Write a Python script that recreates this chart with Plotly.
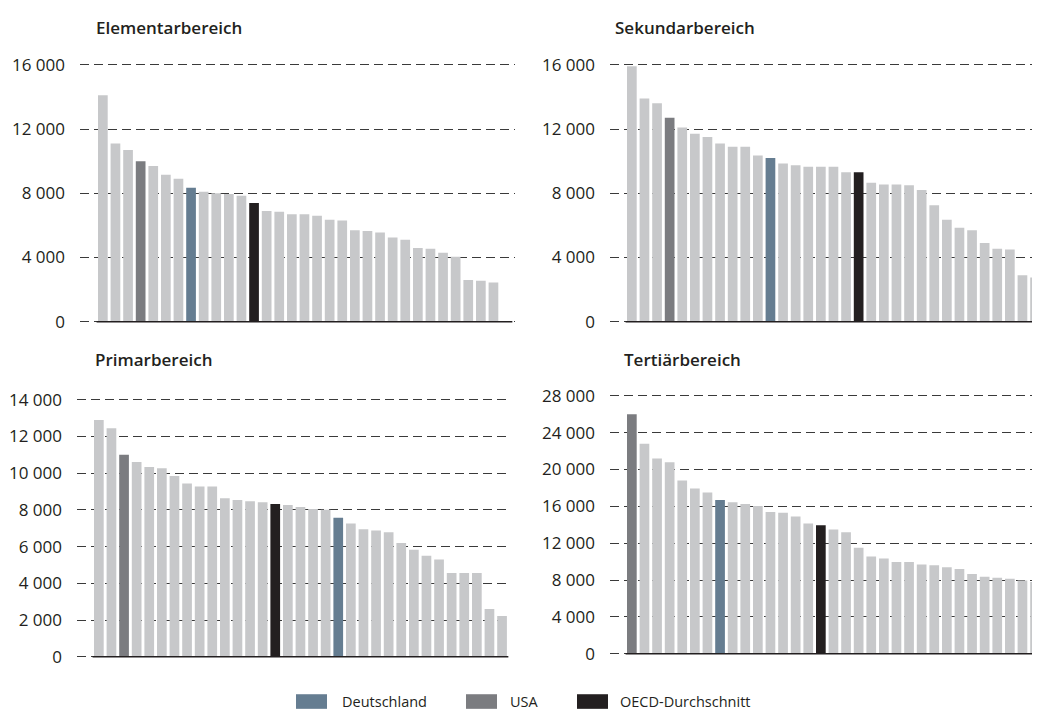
import plotly.graph_objects as go

# ---- data ----
elementar = [14100, 11100, 10700, 10000, 9700, 9150, 8900, 8350, 8100, 8000, 7950, 7850,
             7400, 6900, 6850, 6700, 6700, 6600, 6350, 6300, 5700, 5650, 5550, 5250, 5100,
             4600, 4550, 4300, 4050, 2600, 2550, 2450, None]
elementar_role = ["", "", "", "USA", "", "", "", "DE", "", "", "", "", "OECD"] + [""] * 20

sekundar = [15900, 13900, 13600, 12700, 12100, 11700, 11500, 11100, 10900, 10900, 10350,
            10200, 9850, 9750, 9650, 9650, 9650, 9300, 9300, 8650, 8550, 8550, 8500, 8200,
            7250, 6350, 5850, 5700, 4900, 4550, 4500, 2900, 2750]
sekundar_role = ["", "", "", "USA", "", "", "", "", "", "", "", "DE", "", "", "", "", "", "",
                 "OECD"] + [""] * 14

primar = [12900, 12450, 11000, 10600, 10330, 10270, 9850, 9430, 9270, 9270, 8630, 8530, 8470,
          8420, 8320, 8260, 8150, 8050, 8010, 7570, 7250, 6940, 6880, 6780, 6200, 5830, 5500,
          5300, 4560, 4560, 4560, 2600, 2220]
primar_role = ["", "", "USA"] + [""] * 11 + ["OECD"] + [""] * 4 + ["DE"] + [""] * 13

tertiar = [26000, 22800, 21200, 20800, 18800, 17950, 17500, 16700, 16450, 16250, 16050,
           15400, 15300, 14900, 14150, 13950, 13500, 13200, 11500, 10550, 10350, 9950, 9950,
           9700, 9600, 9400, 9200, 8650, 8350, 8250, 8150, 7950, 7800]
tertiar_role = ["USA"] + [""] * 6 + ["DE"] + [""] * 7 + ["OECD"] + [""] * 17

titles = ["Elementarbereich", "Sekundarbereich", "Primarbereich", "Tertiärbereich"]
y_max = [16000, 16000, 14000, 28000]
y_step = [4000, 4000, 2000, 4000]
legend_labels = ["Deutschland", "USA", "OECD-Durchschnitt"]
legend_roles = ["DE", "USA", "OECD"]

# ---- styling ----
COLORS = {"": "#C7C8CA", "USA": "#7B7C80", "DE": "#657D91", "OECD": "#231F20"}
TEXT = "#231F20"
FONT = "Open Sans"
W, H = 1040, 722
OFF = 8  # page body margin in the browser

# pixel layout of each panel (screen px): (x0, x1, y_top, y_bottom, first bar left px)
panels_px = [
    (80, 515, 56, 320, 98),
    (610, 1048, 56, 320, 627),
    (77, 510, 400, 664, 94),
    (610, 1048, 396, 661, 627),
]
title_px = [(94, 18), (613, 18), (93, 359), (622, 359)]
PITCH = 12.6
BARW = 9.7
EPS = 0.006  # small range padding so edge gridlines are drawn

datasets = [(elementar, elementar_role), (sekundar, sekundar_role),
            (primar, primar_role), (tertiar, tertiar_role)]

fig = go.Figure()
layout = dict(
    width=W, height=H, margin=dict(l=0, r=0, t=0, b=0),
    paper_bgcolor="white", plot_bgcolor="white",
    separators=", ", showlegend=False, bargap=1 - BARW / PITCH,
    font=dict(family=FONT, size=15, color=TEXT),
)
shapes = []
annotations = []

for i, ((vals, roles), (x0, x1, yt, yb, first)) in enumerate(zip(datasets, panels_px)):
    x0, x1, yt, yb, first = x0 - OFF, x1 - OFF, yt - OFF, yb - OFF, first - OFF
    n = len(vals)
    xs = list(range(n))
    ax = "" if i == 0 else str(i + 1)
    fig.add_trace(go.Bar(
        x=xs, y=vals, marker=dict(color=[COLORS[r] for r in roles], line=dict(width=0)),
        xaxis="x" + ax, yaxis="y" + ax, hoverinfo="y",
    ))
    a = -((first + BARW / 2) - x0) / PITCH
    b = a + (x1 - x0) / PITCH
    layout["xaxis" + ax] = dict(
        domain=[x0 / W, min(1.0, x1 / W)], range=[a, b], anchor="y" + ax,
        showgrid=False, showticklabels=False, zeroline=False, showline=False, ticks="",
    )
    ymx = y_max[i]
    lo, hi = -EPS * ymx, ymx * (1 + EPS)
    ppv = (yb - yt) / ymx  # px per value
    top_px = yt - EPS * ymx * ppv
    bot_px = yb + EPS * ymx * ppv
    layout["yaxis" + ax] = dict(
        domain=[1 - bot_px / H, 1 - top_px / H], range=[lo, hi], anchor="x" + ax,
        tickmode="linear", tick0=0, dtick=y_step[i], tickformat=",d",
        showgrid=True, gridcolor="#3A3A3A", gridwidth=1, griddash="9px,5px",
        zeroline=False, showline=False, ticks="", ticklabelstandoff=14,
        tickfont=dict(family=FONT, size=17, color=TEXT),
    )
    # baseline under the bars
    shapes.append(dict(type="line", xref="x" + ax, yref="y" + ax,
                       x0=-0.5, x1=n - 0.5, y0=0, y1=0,
                       line=dict(color="#231F20", width=1.6), layer="above"))
    tx, ty = title_px[i]
    annotations.append(dict(text=titles[i], xref="paper", yref="paper",
                            x=(tx - OFF) / W, y=1 - (ty - OFF) / H, xanchor="left", yanchor="middle",
                            showarrow=False,
                            font=dict(family=FONT, size=17, color=TEXT, weight=600)))

# legend (swatches + labels)
legend_px = [(296, 340), (466, 508), (577, 618)]
LEG_Y = 710 - OFF
for lab, role, (sx, tx) in zip(legend_labels, legend_roles, legend_px):
    sx, tx = sx - OFF, tx - OFF
    shapes.append(dict(type="rect", xref="paper", yref="paper",
                       x0=sx / W, x1=(sx + 31) / W, y0=1 - (LEG_Y + 7.5) / H, y1=1 - (LEG_Y - 7.5) / H,
                       fillcolor=COLORS[role], line=dict(width=0)))
    annotations.append(dict(text=lab, xref="paper", yref="paper", x=tx / W, y=1 - LEG_Y / H,
                            xanchor="left", yanchor="middle", showarrow=False,
                            font=dict(family=FONT, size=14.5, color=TEXT)))

layout["shapes"] = shapes
layout["annotations"] = annotations
fig.update_layout(**layout)
fig.write_html("out.html")
